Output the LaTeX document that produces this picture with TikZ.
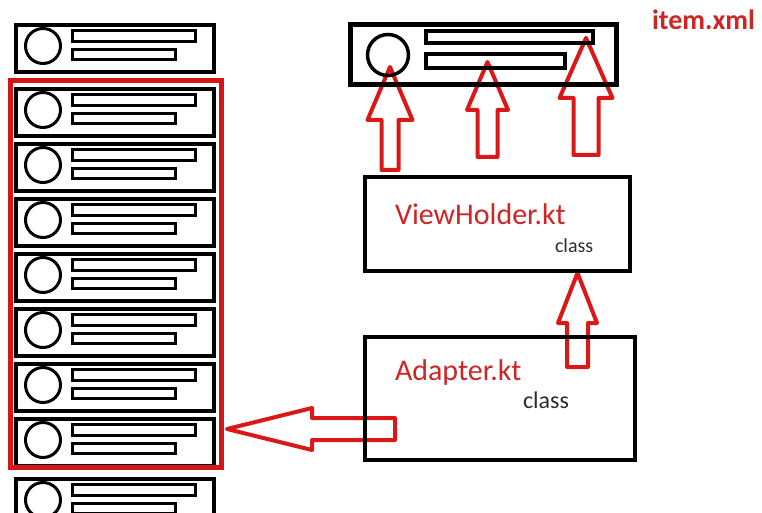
\documentclass[tikz,border=0pt]{standalone}
\usepackage{fontspec}
\setmainfont{Carlito}
\usetikzlibrary{calc,backgrounds}
\definecolor{arrowred}{RGB}{218,24,24}
\definecolor{framered}{RGB}{214,22,22}
\definecolor{labelred}{RGB}{204,38,38}
\definecolor{labelgray}{RGB}{45,45,45}
\tikzset{
  rowbox/.style={draw, line width=3.8pt, minimum width=198pt, minimum height=47pt,
    inner sep=0pt, outer sep=0pt, anchor=north west},
  thinpart/.style={draw, line width=3pt},
  classbox/.style={draw, line width=4pt, inner sep=0pt, outer sep=0pt, anchor=north west},
  blockline/.style={draw=arrowred, line width=4pt, line join=round},
  label/.style={anchor=base west, inner sep=0pt, outer sep=0pt},
  pics/blockarrow/.style n args={4}{code={
    \draw[blockline] (0,-#3) -- ({#1-#2},-#3) -- ({#1-#2},-#4) -- (#1,0)
      -- ({#1-#2},#4) -- ({#1-#2},#3) -- (0,#3) -- cycle;
  }}
}
\begin{document}
\begin{tikzpicture}[x=1pt,y=-1pt]
\useasboundingbox (0,0) rectangle (762,513);
\clip (0,0) rectangle (762,513);

% list rows: one item layout repeated down the column
\foreach \t [count=\i from 0] in {23,87,142,197,252,307,362,417,477} {
  \node[rowbox] (row\i) at (16,\t+1.75) {};
  \begin{scope}[shift={(row\i.north west)}]
    \draw[thinpart] (27,21.25) circle[radius=17.5];
    \draw[thinpart] (56.5,5.75) rectangle (179.5,16.75);
    \draw[thinpart] (56.5,24.75) rectangle (159.5,34.75);
  \end{scope}
}

% frame around the visible rows
\node[draw=framered, line width=5pt, minimum width=211pt, minimum height=387pt,
  inner sep=0pt, outer sep=0pt, anchor=north west] (recycler) at (10.5,80.5) {};

% single item layout
\node[classbox, line width=5pt, minimum width=266pt, minimum height=60pt] (item) at (350.5,24.5) {};
\draw[line width=3.5pt] (388,55) circle[radius=20.5];
\draw[line width=4pt] (426,31) rectangle (593,43);
\draw[line width=4pt] (426,54) rectangle (565,68);
\node[label, text=labelred, font=\fontsize{28}{28}\selectfont\bfseries] (itemname) at (652,30) {item.xml};

% classes
\node[classbox, minimum width=265pt, minimum height=94pt] (vh) at (365,177) {};
\node[label, text=labelred, font=\fontsize{30}{30}\selectfont] (vhname) at (395,224) {ViewHolder.kt};
\node[label, text=labelgray, font=\fontsize{20}{20}\selectfont] (vhkind) at (555,252) {class};

\node[classbox, minimum width=270pt, minimum height=123pt] (adapter) at (365,337) {};
\node[label, text=labelred, font=\fontsize{30}{30}\selectfont] (adname) at (395,380) {Adapter.kt};
\node[label, text=labelgray, font=\fontsize{24}{24}\selectfont] (adkind) at (523,408) {class};

\begin{pgfonlayer}{background}
  \fill[white] (0,0) rectangle (762,513);
  % ViewHolder binds the item views
  \pic[rotate=90] at ($(vh.north west)+(25,-7)$) {blockarrow={103}{53}{8.5}{22.5}};
  \pic[rotate=90] at ($(vh.north west)+(122.5,-20)$) {blockarrow={95}{48}{10}{20.5}};
  \pic[rotate=90] at ($(vh.north west)+(221,-22)$) {blockarrow={117}{60}{12.5}{26.5}};
  % Adapter creates ViewHolders
  \pic[rotate=90] at ($(adapter.north west)+(212.5,30)$) {blockarrow={94}{50}{10.5}{19.5}};
  % Adapter feeds the list
  \pic[rotate=180] at ($(adapter.north west)+(30,92)$) {blockarrow={168}{85}{11}{21}};
\end{pgfonlayer}
\end{tikzpicture}
\end{document}
